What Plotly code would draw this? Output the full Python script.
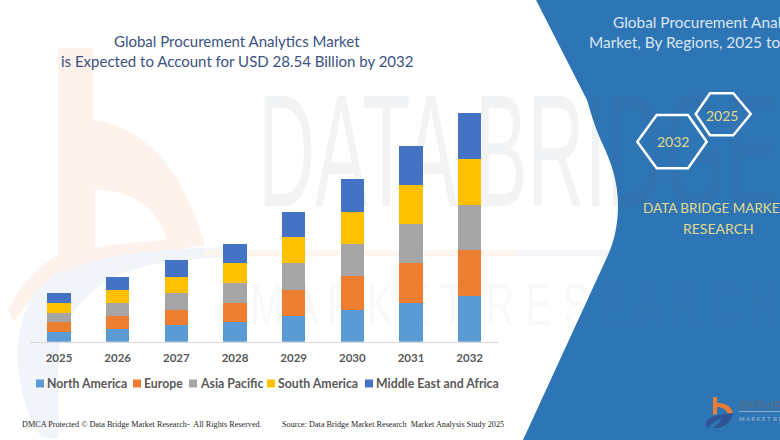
import plotly.graph_objects as go

years = ["2025", "2026", "2027", "2028", "2029", "2030", "2031", "2032"]
regions = ["North America", "Europe", "Asia Pacific", "South America", "Middle East and Africa"]
north_america = [1.21, 1.63, 2.04, 2.46, 3.25, 4.00, 4.83, 5.67]
europe = [1.25, 1.58, 1.96, 2.38, 3.25, 4.17, 5.00, 5.79]
asia_pacific = [1.13, 1.58, 2.04, 2.46, 3.29, 4.08, 4.88, 5.58]
south_america = [1.25, 1.67, 2.08, 2.50, 3.29, 4.00, 4.83, 5.83]
middle_east_africa = [1.25, 1.67, 2.08, 2.46, 3.17, 4.13, 4.96, 5.67]
region_values = [north_america, europe, asia_pacific, south_america, middle_east_africa]
region_colors = ["#5b9bd5", "#ed7d31", "#a5a5a5", "#ffc000", "#4472c4"]

W, H = 780, 440
SANS = "Lato"
SERIF = "Liberation Serif"

fig = go.Figure()

# watermark goes on the first subplot so the bars sit on top of it
# colour is close to the panel blue so it nearly vanishes over the panel
fig.add_trace(go.Scatter(
    x=[258], y=[166], text=["DATA BRIDGE"], mode="text", textposition="middle right",
    textfont=dict(family="Liberation Sans", size=160, color="rgba(90,100,110,0.08)"),
    showlegend=False, hoverinfo="skip", xaxis="x", yaxis="y"))
fig.add_trace(go.Scatter(
    x=[250], y=[310], text=["M A R K E T  R E S E A R C H"], mode="text", textposition="middle right",
    textfont=dict(family="Liberation Sans", size=60, color="rgba(90,100,110,0.04)"),
    showlegend=False, hoverinfo="skip", xaxis="x", yaxis="y"))

for name, values, color in zip(regions, region_values, region_colors):
    fig.add_trace(go.Bar(x=years, y=values, name=name, marker=dict(color=color, line=dict(width=0)),
                         showlegend=False, xaxis="x2", yaxis="y2"))


def rect(x0, y0, x1, y1, color):
    return dict(type="rect", xref="x", yref="y", x0=x0, y0=y0, x1=x1, y1=y1,
                fillcolor=color, line=dict(width=0), layer="below")


def path(d, fill, line_color=None, line_width=0, layer="below"):
    return dict(type="path", xref="x", yref="y", path=d, fillcolor=fill, layer=layer,
                line=dict(color=line_color, width=line_width))


PANEL = "#2e75b6"
HEX = "rgba(0,0,0,0)"
shapes = [
    # pale logo behind the chart
    path("M58,48 L93,48 L93,120 C130,124 160,150 178,180 C192,205 200,225 204,245 "
         "L168,249 C166,232 158,215 142,203 C128,193 110,190 95,190 L95,252 L58,256 Z", "#fdf3ec"),
    path("M60,253 C40,265 20,285 8,310 L14,322 C28,300 45,285 68,272 L110,262 L204,245 L204,236 L120,244 Z",
         "#fdf3ec"),
    path("M204,248 C150,250 90,256 55,275 C30,290 15,325 18,365 C20,395 30,420 42,438 L58,438 "
         "C60,400 56,370 60,345 C66,315 90,285 125,272 C155,262 190,258 258,256 L258,250 Z", "#f1f4f9"),
    rect(204, 250, 517, 256, "#fdf5f0"),
    rect(517, 250, 612, 256, "#f3f5f9"),
    # blue panel
    path("M536,0 L780,0 L780,440 L523,440 L608,255 C614,242 618,225 618,205 "
         "C618,180 610,160 603,145 C595,128 590,110 587,100 Z", PANEL),
    # hexagons
    path("M637.3,141.7 L656.7,115 L688,115 L706.7,141.7 L688,168.3 L656.7,168.3 Z", HEX, "#ffffff", 2.5, "above"),
    path("M695.7,114 L710,93.3 L733.3,93.3 L750.7,114 L733.3,135.3 L710,135.3 Z", HEX, "#ffffff", 2.5, "above"),
    # small logo bottom right
    path("M713,397 L717,397 L717,403 C725,403 731,406 733,413 L728,414 C726,409 722,407 717,407 "
         "L717,414 L713,415 Z", "#ed7d31", layer="above"),
    path("M733,413 C722,414 712,416 707,420 C705,423 706,426 708,428 C712,423 716,420 722,418 "
         "C720,422 716,426 713,428 C722,429 731,424 733,413 Z", "#2f5597", layer="above"),
    rect(739, 411, 780, 412, "#8fa9c4"),
]

# legend is drawn by hand, the swatches are much smaller than the built in ones
legend_swatch_x = [36, 133, 189, 267, 365]
legend_text_x = [45, 141.5, 197.5, 275.5, 373.5]
annotations = []
for name, color, sx, tx in zip(regions, region_colors, legend_swatch_x, legend_text_x):
    shapes.append(rect(sx, 379.5, sx + 8, 387.5, color))
    annotations.append(dict(x=tx, y=383, text=name, xanchor="left",
                            font=dict(family=SANS, size=12.3, color="#595959", weight="bold")))


def label(x, y, text, size, color, anchor="center", family=SANS):
    annotations.append(dict(x=x, y=y, text=text, xanchor=anchor,
                            font=dict(family=family, size=size, color=color)))


label(237, 41, "Global Procurement Analytics Market", 15, "#3b5283")
label(237, 61, "is Expected to Account for USD 28.54 Billion by 2032", 15, "#3b5283")
label(611, 22, "Global Procurement Analytics", 15.4, "#d9e6f2", "left")
label(587, 42, "Market, By Regions, 2025 to 2032", 15.4, "#d9e6f2", "left")
label(672.5, 141, "2032", 14, "#e3d98c")
label(721.5, 115, "2025", 14, "#e3d98c")
label(640.5, 208, "DATA BRIDGE MARKET", 13.5, "#e3d98c", "left")
label(718.5, 228, "RESEARCH", 14, "#e3d98c")
label(19.5, 424, "DMCA Protected © Data Bridge Market Research-  All Rights Reserved.", 8.2, "#262626", "left", SERIF)
label(279.5, 424, "Source: Data Bridge Market Research  Market Analysis Study 2025", 8.2, "#262626", "left", SERIF)
label(736.5, 404, "DATA BRIDGE", 11, "#5b6b7d", "left")
label(736.5, 418, "M A R K E T  R E S E A R C H", 6, "#a9bdd2", "left")

for a in annotations:
    a.update(xref="x", yref="y", yanchor="middle", showarrow=False)

fig.update_layout(
    width=W, height=H, autosize=False, margin=dict(l=0, r=0, t=0, b=0),
    paper_bgcolor="#ffffff", plot_bgcolor="rgba(0,0,0,0)",
    barmode="stack", bargap=0.6, showlegend=False,
    shapes=shapes, annotations=annotations,
    xaxis=dict(domain=[0, 1], range=[0, W], visible=False, fixedrange=True),
    yaxis=dict(domain=[0, 1], range=[H, 0], visible=False, fixedrange=True),
    xaxis2=dict(domain=[29.7 / W, 499 / W], anchor="y2", type="category", range=[-0.5, 7.5],
                showline=True, linecolor="#d9d9d9", linewidth=1, ticks="", showgrid=False, ticklabelstandoff=5,
                tickfont=dict(family=SANS, size=11.5, color="#595959", weight="bold"), fixedrange=True),
    yaxis2=dict(domain=[(H - 341.7) / H, (H - 100) / H], anchor="x2", range=[0, 30.21],
                visible=False, showgrid=False, fixedrange=True),
)

# page margin off, and squeeze the watermark letters, they are tall and narrow in the original
post_js = """
document.body.style.margin = '0';
function squeeze() {
  document.querySelectorAll('.textpoint text').forEach(function (t) {
    var s = t.textContent;
    if (s === 'DATA BRIDGE') { t.setAttribute('textLength', 520); t.setAttribute('lengthAdjust', 'spacingAndGlyphs'); }
    if (s.indexOf('M A R K E T') === 0) { t.setAttribute('textLength', 528); t.setAttribute('lengthAdjust', 'spacingAndGlyphs'); }
  });
}
squeeze();
setTimeout(squeeze, 50);
"""
fig.write_html("out.html", config={"displayModeBar": False}, post_script=post_js)
